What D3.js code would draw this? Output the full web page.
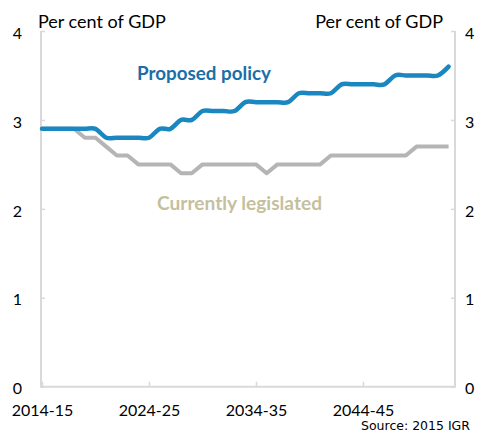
<!DOCTYPE html>
<html>
<head>
<meta charset="utf-8">
<script src="https://cdn.jsdelivr.net/npm/d3@7"></script>
<style>
  html, body { margin: 0; padding: 0; background: #ffffff; }
  svg { display: block; }
  text { font-family: Lato, "Open Sans", sans-serif; fill: #000; }
</style>
</head>
<body>
<svg id="chart" width="482" height="439"></svg>
<script>
// Financial years 2014-15 to 2052-53
const years = d3.range(2014, 2053).map(yr => `${yr}-${String((yr + 1) % 100).padStart(2, "0")}`);

// Per cent of GDP
const proposedPolicy = [
  2.9, 2.9, 2.9, 2.9, 2.9, 2.9, 2.8, 2.8, 2.8, 2.8,
  2.8, 2.9, 2.9, 3.0, 3.0, 3.1, 3.1, 3.1, 3.1, 3.2,
  3.2, 3.2, 3.2, 3.2, 3.3, 3.3, 3.3, 3.3, 3.4, 3.4,
  3.4, 3.4, 3.4, 3.5, 3.5, 3.5, 3.5, 3.5, 3.6
];
const currentlyLegislated = [
  2.9, 2.9, 2.9, 2.9, 2.8, 2.8, 2.7, 2.6, 2.6, 2.5,
  2.5, 2.5, 2.5, 2.4, 2.4, 2.5, 2.5, 2.5, 2.5, 2.5,
  2.5, 2.4, 2.5, 2.5, 2.5, 2.5, 2.5, 2.6, 2.6, 2.6,
  2.6, 2.6, 2.6, 2.6, 2.6, 2.7, 2.7, 2.7, 2.7
];

const xTickLabels = ["2014-15", "2024-25", "2034-35", "2044-45"];
const yTicks = [0, 1, 2, 3, 4];

const svg = d3.select("#chart");
const plotLeft = 41, plotRight = 455, plotTop = 31, plotBottom = 386.7;

const x = d3.scalePoint().domain(years).range([42, 448.6]);
const y = d3.scaleLinear().domain([0, 4]).range([plotBottom, plotTop]);

const axisColor = "#d9d9d9";

// Left value axis, ticks pointing into the plot
const gl = svg.append("g")
  .attr("transform", `translate(${plotLeft},0)`)
  .call(d3.axisLeft(y).tickValues(yTicks).tickFormat(d3.format("d"))
    .tickSizeInner(-4).tickSizeOuter(0).tickPadding(19));

// Right value axis
const gr = svg.append("g")
  .attr("transform", `translate(${plotRight},0)`)
  .call(d3.axisRight(y).tickValues(yTicks).tickFormat(d3.format("d"))
    .tickSizeInner(-4).tickSizeOuter(0).tickPadding(10));

// Category axis along the bottom
const gb = svg.append("g")
  .attr("transform", `translate(0,${plotBottom})`)
  .call(d3.axisBottom(x).tickValues(xTickLabels)
    .tickSizeInner(-5).tickSizeOuter(0).tickPadding(17.5));

[gl, gr, gb].forEach(g => {
  g.select(".domain").remove();
  g.selectAll(".tick line").attr("stroke", axisColor).attr("stroke-width", 1.5);
  g.selectAll(".tick text")
    .style("font-family", "Lato, sans-serif")
    .style("font-size", "16px")
    .attr("fill", "#000");
});
gl.selectAll(".tick text").attr("dy", "0.45em");
gr.selectAll(".tick text").attr("dy", "0.45em");

// Axis frame lines
svg.append("line").attr("x1", plotLeft).attr("x2", plotLeft).attr("y1", plotTop).attr("y2", plotBottom)
  .attr("stroke", axisColor).attr("stroke-width", 2);
svg.append("line").attr("x1", plotRight).attr("x2", plotRight).attr("y1", plotTop).attr("y2", plotBottom)
  .attr("stroke", axisColor).attr("stroke-width", 2);
svg.append("line").attr("x1", plotLeft - 1).attr("x2", plotRight + 1).attr("y1", plotBottom).attr("y2", plotBottom)
  .attr("stroke", axisColor).attr("stroke-width", 2);

// Series lines
const legislatedLine = d3.line()
  .x((d, i) => x(years[i]))
  .y(d => y(d));

const proposedLine = d3.line()
  .x((d, i) => x(years[i]))
  .y(d => y(d))
  .curve(d3.curveCardinal.tension(0));

svg.append("path")
  .datum(currentlyLegislated)
  .attr("d", legislatedLine)
  .attr("fill", "none")
  .attr("stroke", "#b5b5b5")
  .attr("stroke-width", 4)
  .attr("stroke-linejoin", "round");

svg.append("path")
  .datum(proposedPolicy)
  .attr("d", proposedLine)
  .attr("fill", "none")
  .attr("stroke", "#1a87c0")
  .attr("stroke-width", 4.5)
  .attr("stroke-linejoin", "round")
  .attr("stroke-linecap", "round");

// Unit labels
svg.append("text").attr("x", 38).attr("y", 28)
  .style("font-size", "18px").text("Per cent of GDP");
svg.append("text").attr("x", 443).attr("y", 28).attr("text-anchor", "end")
  .style("font-size", "18px").text("Per cent of GDP");

// Series labels
svg.append("text").attr("x", 137).attr("y", 80)
  .style("font-size", "19px").style("font-weight", "bold")
  .style("fill", "#1a6fa8")
  .attr("textLength", 134).attr("lengthAdjust", "spacingAndGlyphs")
  .text("Proposed policy");
svg.append("text").attr("x", 157).attr("y", 210)
  .style("font-size", "19px").style("font-weight", "bold")
  .style("fill", "#c6bf9d")
  .attr("textLength", 165).attr("lengthAdjust", "spacingAndGlyphs")
  .text("Currently legislated");

// Source note
svg.append("text").attr("x", 470).attr("y", 429.5).attr("text-anchor", "end")
  .style("font-family", "'DejaVu Sans', sans-serif").style("font-size", "12.5px")
  .text("Source: 2015 IGR");
</script>
</body>
</html>
